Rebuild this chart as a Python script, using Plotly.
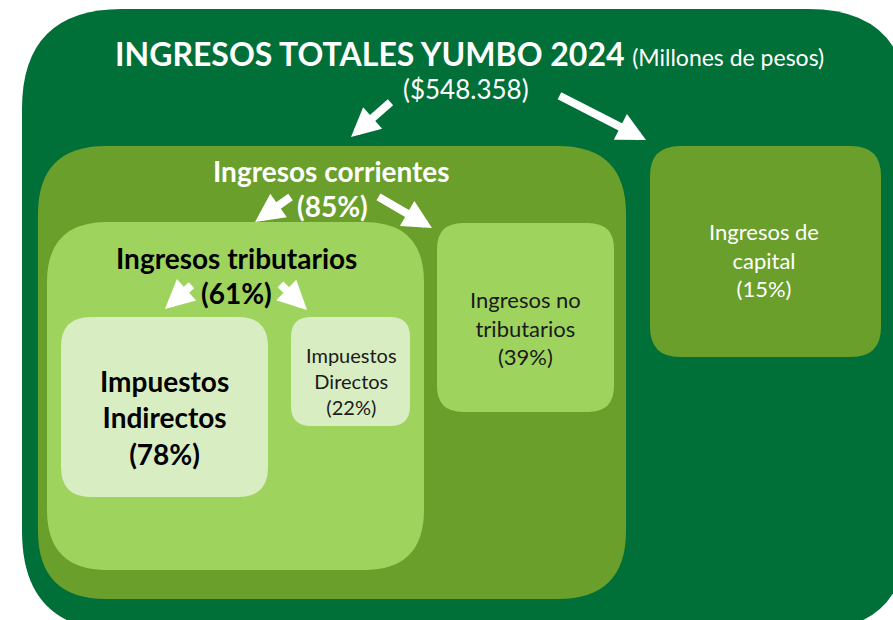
import plotly.graph_objects as go

# ---------------- data ----------------
title_text = "INGRESOS TOTALES YUMBO 2024"
unit_text = "(Millones de pesos)"
total_value = "548.358"          # millones de pesos

categories = ["Ingresos corrientes", "Ingresos de capital",
              "Ingresos tributarios", "Ingresos no tributarios",
              "Impuestos Indirectos", "Impuestos Directos"]
shares = [85, 15, 61, 39, 78, 22]   # % of parent
display_names = ["Ingresos corrientes", "Ingresos de<br>capital",
                 "Ingresos tributarios", "Ingresos no<br>tributarios",
                 "Impuestos<br>Indirectos", "Impuestos<br>Directos"]

# ---------------- styles / layout ----------------
DARK = "#006F38"
MID = "#699F2A"
LIGHT = "#9ED45E"
PALE = "#D9EDC3"
FONT = "Lato"

W, H = 893, 620

boxes = {
    "outer":      dict(x0=22, y0=9, x1=908, y1=631, r=100, color=DARK),
    "corrientes": dict(x0=38, y0=146, x1=626, y1=599, r=68, color=MID),
    "capital":    dict(x0=650, y0=146, x1=881, y1=357, r=30, color=MID),
    "tributarios": dict(x0=47, y0=222, x1=424, y1=570, r=60, color=LIGHT),
    "notrib":     dict(x0=437, y0=223, x1=614, y1=412, r=26, color=LIGHT),
    "indirectos": dict(x0=61, y0=317, x1=268, y1=497, r=30, color=PALE),
    "directos":   dict(x0=291, y0=317, x1=410, y1=426, r=20, color=PALE),
}


def rounded_path(x0, y0, x1, y1, r):
    return (f"M{x0 + r},{y0} L{x1 - r},{y0} Q{x1},{y0} {x1},{y0 + r} "
            f"L{x1},{y1 - r} Q{x1},{y1} {x1 - r},{y1} "
            f"L{x0 + r},{y1} Q{x0},{y1} {x0},{y1 - r} "
            f"L{x0},{y0 + r} Q{x0},{y0} {x0 + r},{y0} Z")


shapes = []
for b in boxes.values():
    shapes.append(dict(type="path", xref="x", yref="y",
                       path=rounded_path(b["x0"], b["y0"], b["x1"], b["y1"], b["r"]),
                       fillcolor=b["color"], line=dict(width=0), layer="below"))

annotations = []


def add_text(x, y, text, size, color, bold=False):
    t = f"<b>{text}</b>" if bold else text
    annotations.append(dict(x=x, y=y, xref="x", yref="y", text=t, showarrow=False,
                            font=dict(family=FONT, size=size, color=color),
                            xanchor="center", yanchor="middle", align="center"))


# title
annotations.append(dict(
    x=469, y=53, xref="x", yref="y", showarrow=False,
    text=(f"<b>{title_text}</b> "
          f"<span style='font-size:23px;font-weight:400'>{unit_text}</span>"),
    font=dict(family=FONT, size=32, color="white", weight=900),
    xanchor="center", yanchor="middle"))
add_text(466, 89, f"(${total_value})", 26, "white")

# level texts
add_text(331, 171, categories[0], 28, "white", bold=True)
add_text(332, 206, f"({shares[0]}%)", 28, "white", bold=True)
add_text(764, 260, f"{display_names[1]}<br>({shares[1]}%)", 22, "white")
add_text(236, 258, categories[2], 28, "black", bold=True)
add_text(236, 293, f"({shares[2]}%)", 28, "black", bold=True)
add_text(525, 328, f"{display_names[3]}<br>({shares[3]}%)", 22, "#1a1a1a")
add_text(164, 417, f"{display_names[4]}<br>({shares[4]}%)", 28, "black", bold=True)
add_text(351, 381, f"{display_names[5]}<br>({shares[5]}%)", 20, "#1a1a1a")

# arrows (tail -> tip)
arrows = [
    ((392, 101), (351, 137)),
    ((558, 95), (646, 140)),
    ((292, 196), (255, 222)),
    ((377, 196), (432, 228)),
    ((193, 284), (165, 309)),
    ((279, 283), (307, 310)),
]
for (tx, ty), (hx, hy) in arrows:
    annotations.append(dict(x=hx, y=hy, ax=tx, ay=ty, xref="x", yref="y",
                            axref="x", ayref="y", text="", showarrow=True,
                            arrowhead=2, arrowsize=0.72, arrowwidth=8,
                            arrowcolor="white", standoff=0, startstandoff=0))

fig = go.Figure()
fig.add_trace(go.Scatter(x=[0, W], y=[0, H], mode="markers",
                         marker=dict(opacity=0), hoverinfo="skip", showlegend=False))
fig.update_layout(
    width=W, height=H, margin=dict(l=0, r=0, t=0, b=0),
    paper_bgcolor="white", plot_bgcolor="white",
    xaxis=dict(range=[0, W], visible=False, fixedrange=True),
    yaxis=dict(range=[H, 0], visible=False, fixedrange=True),
    shapes=shapes, annotations=annotations, showlegend=False,
)
fig.write_html("out.html", config={"displayModeBar": False},
               post_script="document.body.style.margin='0px';")
